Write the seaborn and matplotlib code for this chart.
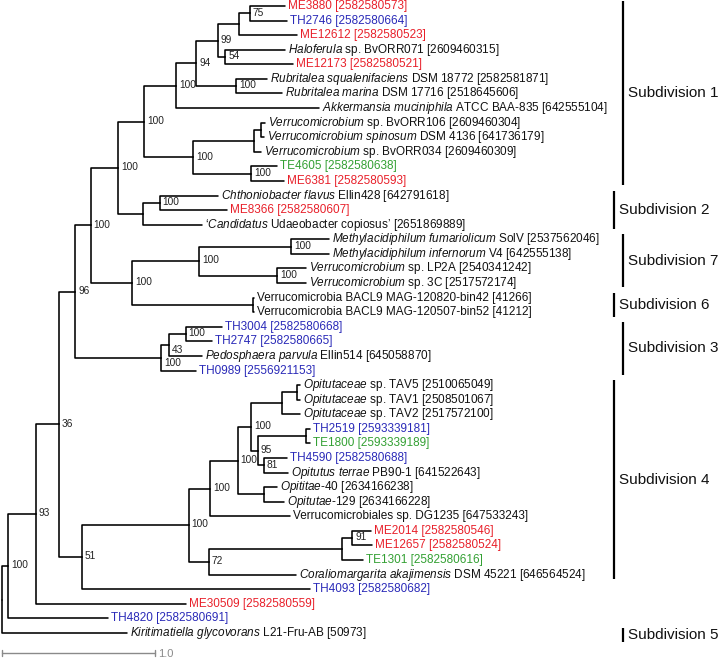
import matplotlib
matplotlib.use('Agg')
import matplotlib.pyplot as plt
import seaborn as sns
import pandas as pd

# leaves, top to bottom
leaf_labels = [
    "ME3880 [2582580573]",
    "TH2746 [2582580664]",
    "ME12612 [2582580523]",
    r"$\mathit{Haloferula}$ sp. BvORR071 [2609460315]",
    "ME12173 [2582580521]",
    r"$\mathit{Rubritalea\ squalenifaciens}$ DSM 18772 [2582581871]",
    r"$\mathit{Rubritalea\ marina}$ DSM 17716 [2518645606]",
    r"$\mathit{Akkermansia\ muciniphila}$ ATCC BAA-835 [642555104]",
    r"$\mathit{Verrucomicrobium}$ sp. BvORR106 [2609460304]",
    r"$\mathit{Verrucomicrobium\ spinosum}$ DSM 4136 [641736179]",
    r"$\mathit{Verrucomicrobium}$ sp. BvORR034 [2609460309]",
    "TE4605 [2582580638]",
    "ME6381 [2582580593]",
    r"$\mathit{Chthoniobacter\ flavus}$ Ellin428 [642791618]",
    "ME8366 [2582580607]",
    r"‘$\mathit{Candidatus}$ Udaeobacter copiosus’ [2651869889]",
    r"$\mathit{Methylacidiphilum\ fumariolicum}$ SolV [2537562046]",
    r"$\mathit{Methylacidiphilum\ infernorum}$ V4 [642555138]",
    r"$\mathit{Verrucomicrobium}$ sp. LP2A [2540341242]",
    r"$\mathit{Verrucomicrobium}$ sp. 3C [2517572174]",
    "Verrucomicrobia BACL9 MAG-120820-bin42 [41266]",
    "Verrucomicrobia BACL9 MAG-120507-bin52 [41212]",
    "TH3004 [2582580668]",
    "TH2747 [2582580665]",
    r"$\mathit{Pedosphaera\ parvula}$ Ellin514 [645058870]",
    "TH0989 [2556921153]",
    r"$\mathit{Opitutaceae}$ sp. TAV5 [2510065049]",
    r"$\mathit{Opitutaceae}$ sp. TAV1 [2508501067]",
    r"$\mathit{Opitutaceae}$ sp. TAV2 [2517572100]",
    "TH2519 [2593339181]",
    "TE1800 [2593339189]",
    "TH4590 [2582580688]",
    r"$\mathit{Opitutus\ terrae}$ PB90-1 [641522643]",
    r"$\mathit{Opititae}$-40 [2634166238]",
    r"$\mathit{Opitutae}$-129 [2634166228]",
    "Verrucomicrobiales sp. DG1235 [647533243]",
    "ME2014 [2582580546]",
    "ME12657 [2582580524]",
    "TE1301 [2582580616]",
    r"$\mathit{Coraliomargarita\ akajimensis}$ DSM 45221 [646564524]",
    "TH4093 [2582580682]",
    "ME30509 [2582580559]",
    "TH4820 [2582580691]",
    r"$\mathit{Kiritimatiella\ glycovorans}$ L21-Fru-AB [50973]",
]
leaf_source = ['ME', 'TH', 'ME', 'ref', 'ME', 'ref', 'ref', 'ref', 'ref', 'ref', 'ref',
               'TE', 'ME', 'ref', 'ME', 'ref', 'ref', 'ref', 'ref', 'ref', 'ref', 'ref',
               'TH', 'TH', 'ref', 'TH', 'ref', 'ref', 'ref', 'TH', 'TE', 'TH', 'ref',
               'ref', 'ref', 'ref', 'ME', 'ME', 'TE', 'ref', 'TH', 'ME', 'TH', 'ref']
# distance of each tip from the root
leaf_x = [1.85, 1.86, 1.93, 1.85, 1.90, 1.73, 1.83, 2.07, 1.72, 1.71, 1.69,
          1.80, 1.84, 1.41, 1.47, 1.31, 2.14, 2.14, 1.99, 1.99, 1.65, 1.65,
          1.44, 1.37, 1.31, 1.27, 1.95, 1.95, 1.95, 2.01, 2.01, 1.86, 1.87,
          1.80, 1.84, 1.88, 2.41, 2.42, 2.36, 1.92, 2.01, 1.20, 0.69, 0.82]

# internal nodes (leaves are 0..43, internal nodes numbered from 44 on)
node_children = [(0, 1), (44, 2), (3, 4), (45, 46), (5, 6), (47, 48), (49, 7),
                 (8, 9), (51, 10), (11, 12), (52, 53), (50, 54), (13, 14), (56, 15),
                 (55, 57), (16, 17), (18, 19), (59, 60), (20, 21), (61, 62), (58, 63),
                 (22, 23), (65, 24), (66, 25), (64, 67), (26, 27), (69, 28), (29, 30),
                 (31, 32), (71, 72), (70, 73), (33, 34), (74, 75), (76, 35), (36, 37),
                 (78, 38), (79, 39), (77, 80), (81, 40), (68, 82), (83, 41), (84, 42),
                 (85, 43)]
node_x = [1.62, 1.55, 1.46, 1.41, 1.53, 1.27, 1.14,
          1.69, 1.65, 1.63, 1.25, 0.93, 1.03, 0.92,
          0.76, 1.89, 1.80, 1.29, 1.64, 0.85, 0.58,
          1.20, 1.09, 1.04, 0.48, 1.93, 1.83, 1.99,
          1.71, 1.67, 1.63, 1.71, 1.54, 1.36, 2.29,
          2.22, 1.35, 1.22, 0.52, 0.37, 0.22, 0.04,
          0.00]
node_support = ['75', '', '54', '99', '100', '94', '100',
                '', '', '100', '100', '100', '100', '',
                '100', '100', '100', '100', '', '100', '100',
                '100', '43', '100', '96', '', '', '',
                '81', '95', '100', '', '100', '100', '91',
                '', '72', '100', '51', '36', '93', '100',
                '']

subdiv_names = ['Subdivision 1', 'Subdivision 2', 'Subdivision 7', 'Subdivision 6',
                'Subdivision 3', 'Subdivision 4', 'Subdivision 5']
subdiv_first = [0, 13, 16, 20, 22, 26, 43]
subdiv_last = [12, 15, 19, 21, 25, 39, 43]

scale_length = 1.0

source_colors = {'ME': '#e8202a', 'TH': '#2a2ab8', 'TE': '#33a033', 'ref': '#111111'}

sns.set_theme(style='white')
plt.rcParams['font.family'] = ['Liberation Sans', 'DejaVu Sans']
plt.rcParams['mathtext.fontset'] = 'custom'
plt.rcParams['mathtext.rm'] = 'Liberation Sans'
plt.rcParams['mathtext.it'] = 'Liberation Sans:italic'

n_leaf = len(leaf_labels)
xpos = leaf_x + node_x
ypos = list(range(n_leaf)) + [0.0] * len(node_x)
for k, (a, b) in enumerate(node_children):
    ypos[n_leaf + k] = (ypos[a] + ypos[b]) / 2

# one elbow path per branch
rows = []
branches = []
for k, kids in enumerate(node_children):
    p = n_leaf + k
    for c in kids:
        e = '%d-%d' % (p, c)
        rows.append((e, xpos[p], ypos[p]))
        rows.append((e, xpos[p], ypos[c]))
        rows.append((e, xpos[c], ypos[c]))
        branches.append((xpos[p], xpos[c], ypos[c]))
edges = pd.DataFrame(rows, columns=['edge', 'x', 'y'])

fig = plt.figure(figsize=(7.2, 6.64), dpi=100)
ax = fig.add_axes([0, 0, 1, 1])
px = 1 / 153.0      # tree units per pixel
row = 14.58         # pixels per leaf row

sns.lineplot(data=edges, x='x', y='y', units='edge', estimator=None, sort=False,
             color='black', lw=1.15, ax=ax)

for i, lab in enumerate(leaf_labels):
    ax.text(leaf_x[i] + 3 * px, i, lab, fontsize=8.5, va='center', ha='left',
            color=source_colors[leaf_source[i]])

for k, s in enumerate(node_support):
    if s:
        p = n_leaf + k
        lx = node_x[k] + 3 * px
        dy = -0.05
        # push the label below a horizontal branch that runs through it
        for x0, x1, yb in branches:
            if abs(yb - ypos[p]) < 0.3 and x0 <= lx + 0.1 and x1 > lx:
                dy = 0.35
        ax.text(lx, ypos[p] + dy, s, fontsize=7.3,
                va='center', ha='left', color='#222222')

for j, name in enumerate(subdiv_names):
    bx = (621 if j % 2 == 0 else 612) * px
    y0 = subdiv_first[j] - 0.33
    y1 = subdiv_last[j] + (0.6 if subdiv_first[j] == subdiv_last[j] else 0.3)
    ax.plot([bx, bx], [y0, y1], color='black', lw=1.6, solid_capstyle='butt')
    ax.text(bx + 5 * px, (y0 + y1) / 2, name, fontsize=11, va='center', ha='left',
            color='#111111')

# scale bar
sy = (653 - 6) / row
ax.plot([0, scale_length], [sy, sy], color='#8a8a8a', lw=1.0)
ax.plot([0, 0], [sy - 0.2, sy + 0.2], color='#8a8a8a', lw=1.0)
ax.plot([scale_length, scale_length], [sy - 0.2, sy + 0.2], color='#8a8a8a', lw=1.0)
ax.text(scale_length + 3 * px, sy + 0.1, '%.1f' % scale_length, fontsize=8,
        va='center', ha='left', color='#8a8a8a')

ax.set_xlim(-2 * px, 718 * px)
ax.set_ylim((664 - 6) / row, -6 / row)
ax.axis('off')

fig.savefig('out.png', dpi=100)
